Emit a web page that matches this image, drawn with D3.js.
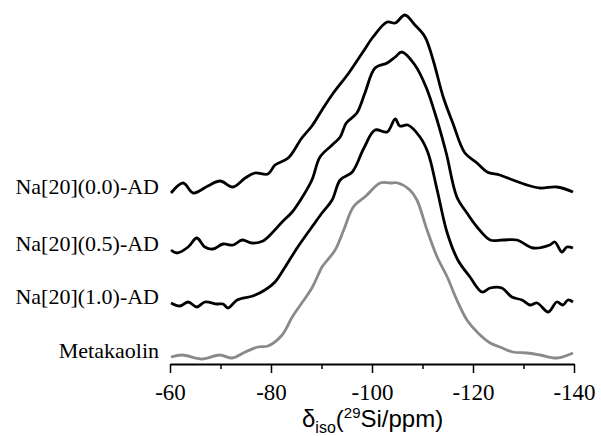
<!DOCTYPE html>
<html>
<head>
<meta charset="utf-8">
<script src="https://cdn.jsdelivr.net/npm/d3@7"></script>
<style>
  body { margin: 0; background: #fff; }
  svg { display: block; }
</style>
</head>
<body>
<div id="chart"></div>
<script>
// 29Si MAS NMR spectra, stacked (intensity includes vertical offset)

const sampleNames = ["Na[20](0.0)-AD", "Na[20](0.5)-AD", "Na[20](1.0)-AD", "Metakaolin"];
const lineColors = ["#000", "#000", "#000", "#8a8a8a"];

// [ppm, intensity]
const na00 = [
    [-60.2, 171], [-62.6, 181], [-64.6, 171], [-67.5, 178], [-69.9, 183], [-72.5, 177],
    [-74.9, 186], [-76.8, 191], [-79.4, 190], [-80.8, 199], [-83.4, 206], [-86.1, 226],
    [-88.1, 238], [-90.1, 254], [-92.2, 270], [-95.4, 291], [-98.2, 312], [-100.2, 327],
    [-103.0, 342], [-104.6, 341], [-106.5, 349], [-108.5, 339], [-110.5, 327], [-112.1, 304],
    [-114.1, 267], [-116.0, 241], [-118.4, 211], [-120.8, 201], [-122.8, 192], [-125.3, 189],
    [-127.9, 184], [-130.7, 179], [-133.3, 176], [-136.6, 177], [-139.8, 172]
];
const na05 = [
    [-60.2, 114], [-61.4, 111], [-63.6, 117], [-65.3, 126], [-66.9, 117], [-68.5, 115],
    [-70.5, 120], [-72.5, 119], [-74.3, 124], [-76.2, 121], [-78.4, 123], [-80.2, 131],
    [-82.2, 142], [-84.2, 152], [-86.1, 166], [-88.1, 184], [-89.7, 207], [-92.1, 219],
    [-93.7, 227], [-94.9, 241], [-97.0, 251], [-98.6, 271], [-100.6, 296], [-103.0, 301],
    [-104.6, 307], [-105.9, 312], [-108.5, 299], [-110.7, 277], [-112.7, 247], [-114.7, 211],
    [-116.8, 167], [-118.8, 151], [-120.8, 137], [-123.4, 124], [-125.9, 124], [-128.7, 124],
    [-131.9, 116], [-135.2, 119], [-136.2, 122], [-137.6, 112], [-138.6, 117], [-139.8, 116]
];
const na10 = [
    [-60.2, 61], [-62.0, 58], [-63.6, 62], [-65.3, 57], [-66.9, 62], [-69.3, 60],
    [-70.5, 60], [-71.5, 56], [-73.3, 64], [-76.4, 68], [-78.8, 74], [-80.8, 82],
    [-82.8, 97], [-85.3, 117], [-88.1, 137], [-90.1, 151], [-92.1, 164], [-93.7, 184],
    [-96.1, 192], [-98.4, 216], [-100.6, 234], [-103.0, 232], [-104.6, 245], [-105.5, 238],
    [-107.1, 239], [-109.5, 227], [-111.1, 211], [-112.9, 174], [-114.9, 131], [-117.0, 104],
    [-119.4, 87], [-121.8, 72], [-123.4, 76], [-125.7, 76], [-127.7, 67], [-129.7, 64],
    [-131.3, 59], [-132.7, 61], [-134.9, 52], [-136.6, 62], [-137.8, 59], [-138.8, 64], [-139.8, 62]
];
const metakaolin = [
    [-60.2, 7], [-62.4, 9], [-66.3, 5], [-69.9, 9], [-72.3, 6], [-74.9, 12],
    [-77.4, 17], [-79.4, 18], [-82.2, 29], [-84.2, 47], [-86.1, 61], [-88.1, 76],
    [-90.1, 97], [-90.7, 101], [-92.7, 114], [-94.4, 134], [-96.3, 157], [-98.8, 168],
    [-101.6, 181], [-103.6, 181], [-105.1, 181], [-107.5, 174], [-108.9, 164], [-110.9, 134],
    [-112.9, 107], [-114.9, 87], [-116.8, 64], [-118.8, 44], [-121.0, 31], [-123.4, 21],
    [-125.3, 17], [-127.9, 12], [-130.7, 11], [-133.3, 9], [-136.6, 6], [-139.8, 11]
];
const spectra = [na00, na05, na10, metakaolin];

const majorTicks = [-60, -80, -100, -120, -140];
const minorTicks = [-70, -90, -110, -130];

const width = 601, height = 436;
const axisY = 364;

const svg = d3.select('#chart')
    .append('svg')
    .attr('width', width)
    .attr('height', height);

const x = d3.scaleLinear().domain([-60, -140]).range([170, 574]);
const y = d3.scaleLinear().domain([0, 364]).range([axisY, 0]);

const line = d3.line()
    .curve(d3.curveCatmullRom.alpha(0.5))
    .x(d => x(d[0]))
    .y(d => y(d[1]));

// 谱线
svg.append('g')
    .selectAll('path')
    .data(spectra)
    .join('path')
    .attr('d', line)
    .style('fill', 'none')
    .style('stroke', (d, i) => lineColors[i])
    .style('stroke-width', 2.8)
    .style('stroke-linejoin', 'round');

// 样品标签
svg.append('g')
    .selectAll('text')
    .data(sampleNames)
    .join('text')
    .attr('x', 159)
    .attr('y', (d, i) => y(spectra[i][0][1]) + 1)
    .attr('text-anchor', 'end')
    .style('font-family', '"Liberation Serif", "Times New Roman", serif')
    .style('font-size', '22px')
    .style('fill', '#000')
    .text(d => d);

// 次刻度
svg.append('g')
    .attr('transform', `translate(0,${axisY})`)
    .call(d3.axisBottom(x).tickValues(minorTicks).tickSize(5).tickFormat(''))
    .call(g => g.select('.domain').remove())
    .call(g => g.selectAll('line').style('stroke', '#000').style('stroke-width', 1.5));

// 主刻度
const xAxis = svg.append('g')
    .attr('transform', `translate(0,${axisY})`)
    .call(d3.axisBottom(x)
        .tickValues(majorTicks)
        .tickSize(9)
        .tickSizeOuter(0)
        .tickPadding(11)
        .tickFormat(d => String(d)));

xAxis.select('.domain').style('stroke', '#000').style('stroke-width', 2);
xAxis.selectAll('line').style('stroke', '#000').style('stroke-width', 1.5);
xAxis.selectAll('text')
    .style('font-family', '"Liberation Serif", "Times New Roman", serif')
    .style('font-size', '23px')
    .style('fill', '#000');

// 坐标轴标题
const title = svg.append('text')
    .attr('x', 302)
    .attr('y', 427)
    .style('font-family', '"Liberation Sans", Arial, sans-serif')
    .style('font-size', '24px')
    .style('fill', '#000');
title.append('tspan').text('δ');
title.append('tspan').attr('dy', 6).style('font-size', '16px').text('iso');
title.append('tspan').attr('dy', -6).text('(');
title.append('tspan').attr('dy', -9).style('font-size', '15px').text('29');
title.append('tspan').attr('dy', 9).text('Si/ppm)');
</script>
</body>
</html>
